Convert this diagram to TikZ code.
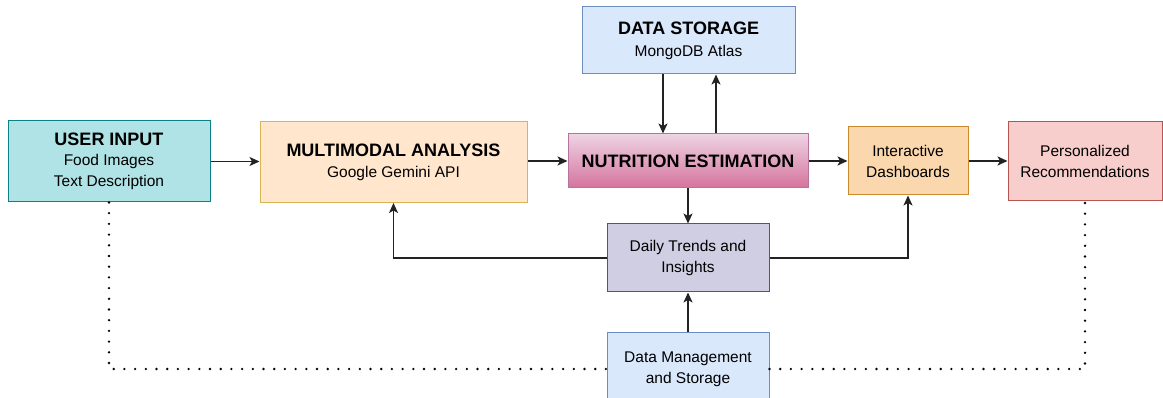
\documentclass[tikz,border=0pt]{standalone}
\usepackage{fontspec}
\setmainfont{Liberation Sans}
\usetikzlibrary{arrows.meta}
\definecolor{uifill}{HTML}{B0E3E6}\definecolor{uidraw}{HTML}{0E8088}
\definecolor{mmfill}{HTML}{FFE6CC}\definecolor{mmdraw}{HTML}{D6B656}
\definecolor{bfill}{HTML}{DAE8FC}\definecolor{bdraw}{HTML}{6C8EBF}
\definecolor{ntop}{HTML}{EED3E3}\definecolor{nbot}{HTML}{D5739D}\definecolor{ndraw}{HTML}{B5739D}
\definecolor{dbfill}{HTML}{FAD7AC}\definecolor{dbdraw}{HTML}{C98A2E}
\definecolor{prfill}{HTML}{F8CECC}\definecolor{prdraw}{HTML}{B85450}
\definecolor{dtfill}{HTML}{D0CEE2}\definecolor{dtdraw}{HTML}{56517E}
\definecolor{linec}{HTML}{222222}
\newcommand\ttl[1]{{\fontsize{18}{20}\selectfont\bfseries #1}}
\tikzset{
  box/.style={draw, line width=1pt, inner sep=0pt, align=center, text=black,
    font=\fontsize{15.5}{21}\selectfont},
  arr/.style={draw=linec, line width=1.3pt, -{Stealth[length=10pt,width=9pt,inset=2.5pt]}},
  dots/.style={draw=black, line width=2.6pt, line cap=round, dash pattern=on 0pt off 10.7pt},
}
\begin{document}
\begin{tikzpicture}[x=1pt,y=-1pt]
\path[use as bounding box, clip] (0,0) rectangle (1163,398);
\fill[white] (0,0) rectangle (1163,398);
\node[box, fill=uifill, draw=uidraw, minimum width=202, minimum height=81] (ui) at (109,161.5)
  {\ttl{USER INPUT}\\[-1pt]Food Images\\Text Description};
\node[box, fill=mmfill, draw=mmdraw, minimum width=267, minimum height=81] (mm) at (393.5,162)
  {\ttl{MULTIMODAL ANALYSIS}\\Google Gemini API};
\node[box, fill=bfill, draw=bdraw, minimum width=213, minimum height=67] (ds) at (688.5,40.5)
  {\ttl{DATA STORAGE}\\[1pt]MongoDB Atlas};
\node[box, top color=ntop, bottom color=nbot, draw=ndraw, minimum width=240, minimum height=54] (nu) at (688,161)
  {\ttl{NUTRITION ESTIMATION}};
\node[box, fill=dbfill, draw=dbdraw, minimum width=120, minimum height=68] (db) at (908,161)
  {Interactive\\Dashboards};
\node[box, fill=prfill, draw=prdraw, minimum width=154, minimum height=79] (pr) at (1085,161.5)
  {Personalized\\Recommendations};
\node[box, fill=dtfill, draw=dtdraw, minimum width=162, minimum height=68] (dt) at (688,258)
  {Daily Trends and\\Insights};
\node[box, fill=bfill, draw=bdraw, minimum width=162, minimum height=72] (dm) at (688,369)
  {Data Management\\and Storage};
\coordinate (xa) at (663,0);
\coordinate (xb) at (716,0);
\draw[arr] (ui.east) -- (ui.east -| mm.west);
\draw[arr] (mm.east |- nu.west) -- (nu.west);
\draw[arr] (nu.east) -- (db.west);
\draw[arr] (db.east) -- (db.east -| pr.west);
\draw[arr] (ds.south -| xa) -- (nu.north -| xa);
\draw[arr] (nu.north -| xb) -- (ds.south -| xb);
\draw[arr] (nu.south) -- (dt.north);
\draw[arr] (dm.north) -- (dt.south);
\draw[arr] (dt.west) -| (mm.south);
\draw[arr] (dt.east) -| (db.south);
\draw[dots] (ui.south) |- (dm.west);
\draw[dots] (dm.east) -| (pr.south);
\end{tikzpicture}
\end{document}
